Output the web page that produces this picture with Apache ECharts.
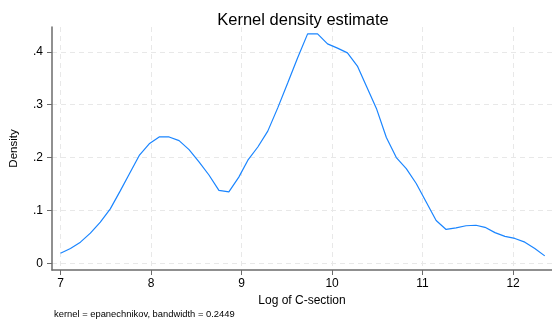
<!DOCTYPE html>
<html lang="en">
<head>
    <meta charset="UTF-8">
    <title>Kernel density estimate</title>
    <script src="https://cdn.jsdelivr.net/npm/echarts@6/dist/echarts.min.js"></script>
    <style>
        html, body { margin: 0; padding: 0; background: #fff; }
        #chart { width: 552px; height: 322px; }
    </style>
</head>
<body>
    <div id="chart"></div>
    <script>
        // evaluation points (log of C-section)
        const xPoints = [7.00, 7.11, 7.22, 7.33, 7.44, 7.55, 7.66, 7.76, 7.87, 7.98,
                         8.09, 8.20, 8.31, 8.42, 8.53, 8.64, 8.75, 8.86, 8.97, 9.07,
                         9.18, 9.29, 9.40, 9.51, 9.62, 9.73, 9.84, 9.95, 10.06, 10.17,
                         10.28, 10.38, 10.49, 10.60, 10.71, 10.82, 10.93, 11.04, 11.15, 11.26,
                         11.37, 11.48, 11.59, 11.69, 11.80, 11.91, 12.02, 12.13, 12.24, 12.35];
        // density estimate
        const density = [0.019, 0.028, 0.040, 0.057, 0.078, 0.103, 0.137, 0.169, 0.204, 0.226,
                         0.239, 0.239, 0.232, 0.215, 0.192, 0.167, 0.138, 0.135, 0.163, 0.195,
                         0.220, 0.250, 0.294, 0.341, 0.389, 0.434, 0.434, 0.415, 0.407, 0.398,
                         0.373, 0.335, 0.293, 0.238, 0.200, 0.179, 0.151, 0.116, 0.081, 0.064,
                         0.067, 0.071, 0.072, 0.068, 0.058, 0.051, 0.047, 0.040, 0.028, 0.014];
        const xTicks = [7, 8, 9, 10, 11, 12];
        const yTicks = [0, 0.1, 0.2, 0.3, 0.4];

        const chart = echarts.init(document.getElementById('chart'));
        const axisGray = '#6b6b6b';
        const gridLine = { show: true, lineStyle: { color: '#e8e8e8', type: [5, 4], width: 1 } };

        chart.setOption({
            animation: false,
            textStyle: { fontFamily: 'Liberation Sans, Arial, sans-serif', color: '#000' },
            title: {
                text: 'Kernel density estimate',
                left: 298, top: 7, textAlign: 'center',
                textStyle: { fontSize: 16.5, fontWeight: 'normal', color: '#000' }
            },
            grid: { left: 52, right: 0, top: 27, bottom: 52 },
            xAxis: {
                type: 'value', min: 6.906, max: 12.43,
                name: 'Log of C-section', nameLocation: 'middle', nameGap: 22,
                nameTextStyle: { fontSize: 12, color: '#000' },
                axisLine: { show: true, onZero: false, lineStyle: { color: axisGray, width: 1.5 } },
                axisTick: { show: true, length: 5, lineStyle: { color: axisGray }, customValues: xTicks },
                axisLabel: { fontSize: 12, color: '#000', margin: 8, customValues: xTicks },
                splitLine: gridLine
            },
            yAxis: {
                type: 'value', min: -0.0127, max: 0.447,
                name: 'Density', nameLocation: 'middle', nameGap: 32,
                nameTextStyle: { fontSize: 11.5, color: '#000' },
                axisLine: { show: true, onZero: false, lineStyle: { color: axisGray, width: 1.5 } },
                axisTick: { show: true, length: 5, lineStyle: { color: axisGray }, customValues: yTicks },
                axisLabel: {
                    fontSize: 12, color: '#000', margin: 9, customValues: yTicks,
                    formatter: v => v === 0 ? '0' : String(+v.toFixed(1)).replace(/^0/, '')
                },
                splitLine: gridLine
            },
            graphic: [{
                type: 'text', left: 54, top: 310,
                style: { text: 'kernel = epanechnikov, bandwidth = 0.2449', fontSize: 9.4, fill: '#000',
                         fontFamily: 'Liberation Sans, Arial, sans-serif' }
            }],
            series: [{
                type: 'line',
                data: xPoints.map((x, i) => [x, density[i]]),
                showSymbol: false,
                lineStyle: { color: '#1a85ff', width: 1.2 },
                clip: false
            }]
        });
    </script>
</body>
</html>
